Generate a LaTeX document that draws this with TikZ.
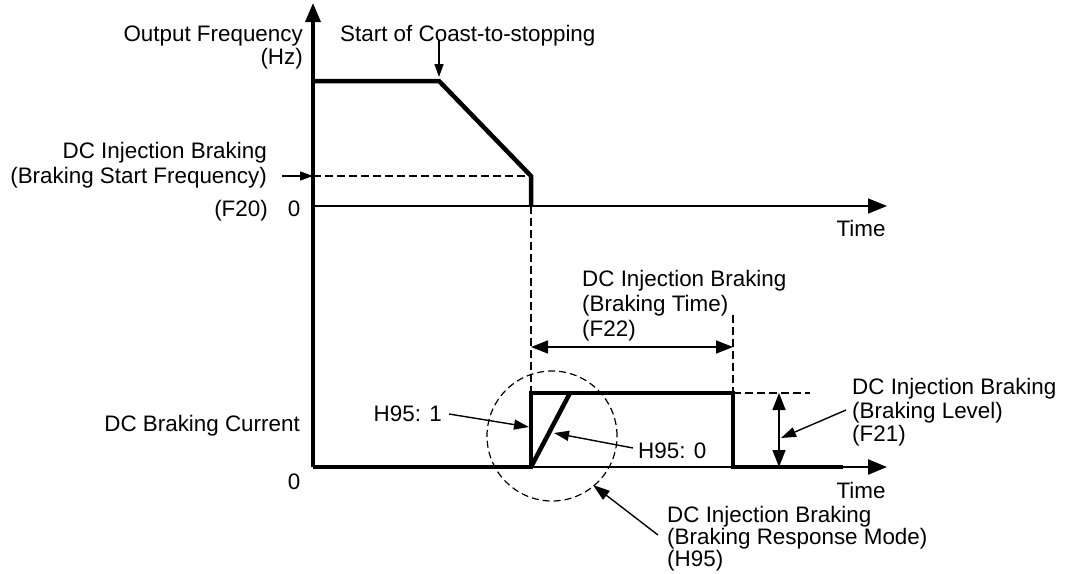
\documentclass[tikz,border=0pt]{standalone}
\usepackage{fontspec}
\setmainfont{Liberation Sans}
\usetikzlibrary{arrows.meta}
\begin{document}
\begin{tikzpicture}[x=1pt,y=-1pt,
  lbl/.style={inner sep=0pt,font=\fontsize{22.4pt}{24pt}\selectfont},
  curve/.style={line width=4.5pt,line join=miter,line cap=butt},
  thin/.style={line width=1.5pt},
  dsh/.style={line width=1.3pt,dash pattern=on 8pt off 4pt},
  bigtip/.style={-{Triangle[length=19pt,width=15pt]}},
  ptr/.style={line width=1.4pt,-{Triangle[length=15pt,width=10pt]}},
  dbl/.style={line width=1.5pt,{Triangle[length=17pt,width=13pt]}-{Triangle[length=17pt,width=13pt]}}
]
\useasboundingbox (0,0) rectangle (1070,573);

% key points
\coordinate (Ybot) at (313,467);
\coordinate (Ytop) at (313,3);
\coordinate (O1) at (313,206);
\coordinate (X1end) at (887,206);
\coordinate (P1) at (313,81);
\coordinate (P2) at (439,81);
\coordinate (P3) at (531,176);
\coordinate (P4) at (531,206);
\coordinate (F20pt) at (313,176);
\coordinate (F20tail) at (282,176);
\coordinate (CoastTail) at (439,40);
\coordinate (CoastTip) at (439,77);
\coordinate (B1) at (531,467);
\coordinate (B2) at (531,393);
\coordinate (B3) at (733,393);
\coordinate (B4) at (733,467);
\coordinate (Ramp) at (570,393);
\coordinate (ThickEnd) at (843,467);
\coordinate (X2end) at (887,467);
\coordinate (D2top) at (733,315);
\coordinate (LvlDash) at (810,393);
\coordinate (TL) at (531,347);
\coordinate (TR) at (733,347);
\coordinate (LvTop) at (779,393);
\coordinate (LvBot) at (779,467);
\coordinate (Cc) at (552,436);

% axes
\draw[line width=3.5pt,bigtip] (Ybot) -- (Ytop);
\draw[thin,bigtip] (O1) -- (X1end);
\draw[line width=2.5pt,bigtip] (Ybot) -- (X2end);

% output frequency curve
\draw[curve] (P1) -- (P2) -- (P3) -- (P4);
\draw[dsh] (F20pt) -- (P3);
\draw[dsh] (P4) -- (B2);
\draw[ptr,-{Triangle[length=13pt,width=9pt]}] (F20tail) -- (F20pt);
\draw[ptr,-{Triangle[length=13pt,width=9pt]}] (CoastTail) -- (CoastTip);

% DC braking current
\draw[curve] (Ybot) -- (B1) -- (B2) -- (B3) -- (B4) -- (ThickEnd);
\draw[curve] (B1) -- (Ramp);
\draw[dsh] (D2top) -- (B3);
\draw[dsh] (B3) -- (LvlDash);
\draw[dbl] (TL) -- (TR);
\draw[dbl] (LvTop) -- (LvBot);
\draw[dsh,line width=1.2pt,dash pattern=on 7pt off 4pt] (Cc) circle[radius=65pt];

% labels
\node[lbl,anchor=base east] (of) at (303,41) {Output Frequency};
\node[lbl,anchor=base east] (hz) at (303,64) {(Hz)};
\node[lbl,anchor=base west] (coast) at (340,41) {Start of Coast-to-stopping};
\node[lbl,anchor=base east] (sf1) at (267,158) {DC Injection Braking};
\node[lbl,anchor=base east] (sf2) at (267,183) {(Braking Start Frequency)};
\node[lbl,anchor=base east] (sf3) at (268,216) {(F20)};
\node[lbl,anchor=base] (zero1) at (294,216) {0};
\node[lbl,anchor=base] (time1) at (861,236) {Time};
\node[lbl,anchor=base west] (bt1) at (582,286) {DC Injection Braking};
\node[lbl,anchor=base west] (bt2) at (582,311) {(Braking Time)};
\node[lbl,anchor=base west] (bt3) at (582,336) {(F22)};
\node[lbl,anchor=base east] (cur) at (300,431) {DC Braking Current};
\node[lbl,anchor=base] (zero2) at (294,489) {0};
\node[lbl,anchor=base east] (h1) at (442,421) {H95: 1};
\node[lbl,anchor=base west] (h0) at (638,458) {H95: 0};
\node[lbl,anchor=base west] (bl1) at (852,394) {DC Injection Braking};
\node[lbl,anchor=base west] (bl2) at (852,418) {(Braking Level)};
\node[lbl,anchor=base west] (bl3) at (852,441) {(F21)};
\node[lbl,anchor=base] (time2) at (861,498) {Time};
\node[lbl,anchor=base west] (rm1) at (667,522) {DC Injection Braking};
\node[lbl,anchor=base west] (rm2) at (667,544) {(Braking Response Mode)};
\node[lbl,anchor=base west] (rm3) at (667,566) {(H95)};

% pointer arrows
\coordinate (H1tail) at (449,414);
\coordinate (H1tip) at (529,427);
\coordinate (H0tail) at (633,448);
\coordinate (H0tip) at (554,433);
\coordinate (BLtail) at (846,410);
\coordinate (BLtip) at (781,438);
\coordinate (RMtail) at (658,535);
\coordinate (RMtip) at (593,485);
\draw[ptr] (H1tail) -- (H1tip);
\draw[ptr] (H0tail) -- (H0tip);
\draw[ptr] (BLtail) -- (BLtip);
\draw[ptr,-{Triangle[length=17pt,width=11pt]}] (RMtail) -- (RMtip);
\end{tikzpicture}
\end{document}
